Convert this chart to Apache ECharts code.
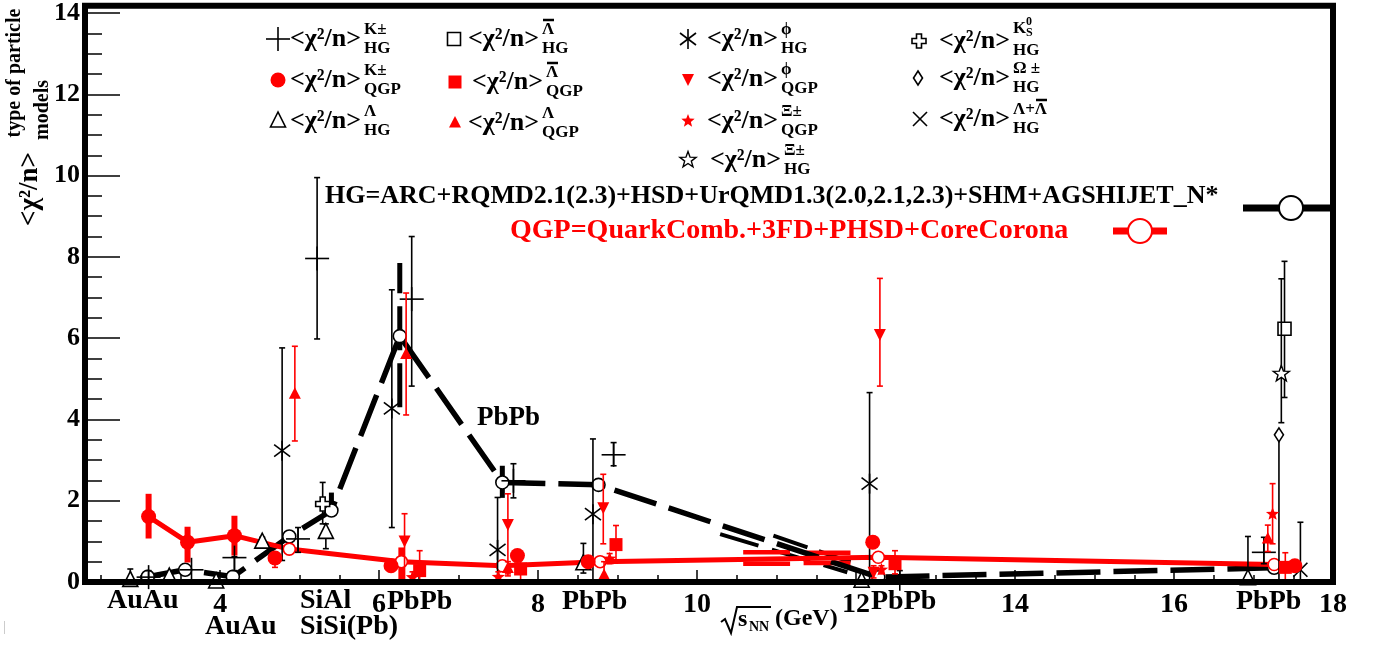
<!DOCTYPE html>
<html><head><meta charset="utf-8">
<script src="https://cdn.jsdelivr.net/npm/echarts@6/dist/echarts.min.js"></script>
<style>html,body{margin:0;padding:0;background:#fff}#c{width:1375px;height:645px}</style>
</head><body><div id="c"></div>
<script>
// ---------------- data ----------------
const xMajorTicks = [4, 6, 8, 10, 12, 14, 16, 18];
const xMinorTicks = [2.5, 3, 3.5, 4.5, 5, 5.5, 6.5, 7, 7.5, 8.5, 9, 9.5, 10.5, 11, 11.5, 12.5, 13, 13.5, 14.5, 15, 15.5, 16.5, 17, 17.5];
const yMajorTicks = [0, 2, 4, 6, 8, 10, 12, 14];
const yMinorTicks = [0.5, 1, 1.5, 2.5, 3, 3.5, 4.5, 5, 5.5, 6.5, 7, 7.5, 8.5, 9, 9.5, 10.5, 11, 11.5, 12.5, 13, 13.5];

// averaged models (lines)
const hgAvgLine = [[3.09,0.13],[3.56,0.30],[4.16,0.13],[4.87,1.12],[5.40,1.76],[6.26,6.05],[7.55,2.45],[8.76,2.39],[12.28,0.12],[17.26,0.35]];
const hgAvgErrs = [[5.40,1.60,2.20],[6.26,4.30,7.85],[7.55,2.07,2.86]];
const hgGhostA = [[10.29,1.18],[11.89,0.24]];
const hgGhostB = [[10.96,1.14],[11.93,0.49]];
const qgpAvgLine = [[3.10,1.61],[3.59,0.98],[4.18,1.14],[4.87,0.81],[6.28,0.50],[7.55,0.40],[8.78,0.50],[12.28,0.61],[17.26,0.43]];
const qgpAvgErrs = [[3.10,1.07,2.17],[3.59,0.48,1.36],[4.18,0.65,1.63],[6.28,0.00,0.85]];
const qgpGhostBars = [[10.58,11.17,0.73],[10.58,11.17,0.45],[11.34,11.93,0.72],[11.34,11.93,0.47]];

// individual particles: [x, y, errLow, errHigh]
const kHG = [[3.10,0.12,0.00,0.28],[3.64,0.30,0.30,0.30],[4.18,0.60,0.28,0.62],[4.98,1.06,0.73,1.34],[5.22,7.96,5.98,9.95],[6.41,6.96,4.82,8.50],[7.69,2.49,2.07,2.91],[8.95,3.13,2.86,3.43],[12.55,0.08,0.00,0.28],[17.13,0.73,0.45,1.10]];
const kQGP = [[3.10,1.61,1.61,1.61],[3.59,0.98,0.98,0.98],[4.18,1.14,1.14,1.14],[4.69,0.59,0.36,0.62],[6.15,0.40,0.30,0.50],[7.74,0.65,0.55,0.78],[8.63,0.50,0.45,0.55],[12.21,0.98,0.85,1.12],[17.52,0.40,0.40,0.40]];
const lamHG = [[2.87,0.04,0.00,0.32],[3.36,0.12,0.12,0.12],[3.95,0.00,0.00,0.00],[4.53,0.98,0.98,1.10],[5.33,1.22,0.82,1.43],[8.57,0.45,0.22,0.95],[12.07,0.02,0.02,0.02],[16.93,0.08,0.00,1.12]];
const lamBarHG = [[17.39,6.23,4.54,7.89]];
const lamBarQGP = [[6.51,0.28,0.00,0.77],[7.78,0.32,0.00,0.60],[8.98,0.92,0.53,1.39],[12.49,0.45,0.20,0.77],[17.40,0.36,0.00,0.72]];
const lamQGP = [[4.94,4.62,3.47,5.80],[6.34,5.60,4.11,7.11],[7.62,0.33,0.15,0.50],[8.83,0.16,0.00,0.50],[17.18,1.06,0.75,1.40]];
const phiHG = [[4.78,3.23,0.53,5.76],[6.16,4.27,1.34,7.19],[7.49,0.79,0.00,2.08],[8.69,1.67,0.00,3.52],[12.17,2.42,0.00,4.66]];
const phiQGP = [[6.32,1.02,0.00,1.68],[7.62,1.43,0.20,2.17],[8.82,1.84,0.94,2.65],[12.30,6.10,4.82,7.47],[12.22,0.25,0.10,0.40]];
const xiQGP = [[6.42,0.11,0.00,0.25],[7.50,0.12,0.00,0.25],[8.90,0.57,0.45,0.70],[12.32,0.30,0.20,0.40],[17.24,1.67,0.94,2.42]];
const xiHG = [[17.35,5.12,3.92,7.46]];
const k0sHG = [[5.29,1.92,1.43,2.45]];
const omegaHG = [[17.32,3.62,0.00,3.62]];
const lamLamBarHG = [[17.59,0.30,0.00,1.47]];

// ---------------- helpers ----------------
const RED = '#ff0000', BLK = '#000000';
const FF = '"Liberation Serif","Times New Roman",serif';
function L(x1,y1,x2,y2,c,w,dash){return {type:'line',shape:{x1,y1,x2,y2},style:{stroke:c,lineWidth:w,lineDash:dash||null}};}
function P(points,fill,stroke,w){return {type:'polygon',shape:{points},style:{fill:fill,stroke:stroke||null,lineWidth:w||0}};}
function starPts(cx,cy,ro,ri){const p=[];for(let i=0;i<10;i++){const r=i%2?ri:ro;const a=-Math.PI/2+i*Math.PI/5;p.push([cx+r*Math.cos(a),cy+r*Math.sin(a)]);}return p;}
function marker(kind,cx,cy){
  const W=1.6;
  switch(kind){
    case 'plus': return [L(cx-12,cy,cx+12,cy,BLK,W),L(cx,cy-12,cx,cy+12,BLK,W)];
    case 'circleRed': return [{type:'circle',shape:{cx,cy,r:7.5},style:{fill:RED}}];
    case 'triOpen': return [P([[cx,cy-9],[cx-7.5,cy+6],[cx+7.5,cy+6]],'#fff',BLK,W)];
    case 'sqOpen': return [{type:'rect',shape:{x:cx-6.5,y:cy-6.5,width:13,height:13},style:{fill:'#fff',stroke:BLK,lineWidth:W}}];
    case 'sqRed': return [{type:'rect',shape:{x:cx-6.5,y:cy-6.5,width:13,height:13},style:{fill:RED}}];
    case 'triRed': return [P([[cx,cy-7],[cx-6,cy+4.5],[cx+6,cy+4.5]],RED)];
    case 'triDownRed': return [P([[cx-6,cy-5],[cx+6,cy-5],[cx,cy+7]],RED)];
    case 'starRed': return [P(starPts(cx,cy,7,3),RED)];
    case 'starOpen': return [P(starPts(cx,cy,8.5,3.5),'#fff',BLK,1.4)];
    case 'asterisk': return [L(cx,cy-10,cx,cy+10,BLK,W),L(cx-8,cy-6,cx+8,cy+6,BLK,W),L(cx-8,cy+6,cx+8,cy-6,BLK,W)];
    case 'crossOpen': {const a=7,b=2.5; return [P([[cx-b,cy-a],[cx+b,cy-a],[cx+b,cy-b],[cx+a,cy-b],[cx+a,cy+b],[cx+b,cy+b],[cx+b,cy+a],[cx-b,cy+a],[cx-b,cy+b],[cx-a,cy+b],[cx-a,cy-b],[cx-b,cy-b]],'#fff',BLK,W)];}
    case 'diamondOpen': return [P([[cx,cy-7],[cx+4.5,cy],[cx,cy+7],[cx-4.5,cy]],'#fff',BLK,W)];
    case 'xMark': return [L(cx-7,cy-7,cx+7,cy+7,BLK,W),L(cx-7,cy+7,cx+7,cy-7,BLK,W)];
  }
  return [];
}
function particleSeries(name,data,kind,color){
  return {type:'custom',name,data,z:6,silent:true,clip:false,encode:{x:0,y:1},
    renderItem(params,api){
      const x=api.value(0),y=api.value(1),lo=api.value(2),hi=api.value(3);
      const p=api.coord([x,y]),pl=api.coord([x,lo]),ph=api.coord([x,hi]);
      const ch=[];
      if(Math.abs(pl[1]-ph[1])>1){
        ch.push(L(p[0],pl[1],p[0],ph[1],color,1.6));
        if(lo<y) ch.push(L(p[0]-3,pl[1],p[0]+3,pl[1],color,1.6));
        if(hi>y) ch.push(L(p[0]-3,ph[1],p[0]+3,ph[1],color,1.6));
      }
      return {type:'group',children:ch.concat(marker(kind,p[0],p[1]))};
    }};
}
function thickErrSeries(name,data,color,width,dash,z){
  return {type:'custom',name,data,z:z,silent:true,clip:false,encode:{x:0,y:[1,2]},
    renderItem(params,api){
      const a=api.coord([api.value(0),api.value(1)]),b=api.coord([api.value(0),api.value(2)]);
      return L(a[0],a[1],b[0],b[1],color,width,dash);
    }};
}
function barSeries(name,data,color,width,z){
  return {type:'custom',name,data,z:z,silent:true,encode:{x:[0,1],y:2},
    renderItem(params,api){
      const a=api.coord([api.value(0),api.value(2)]),b=api.coord([api.value(1),api.value(2)]);
      return L(a[0],a[1],b[0],b[1],color,width);
    }};
}

// ---------------- graphics (texts, legend) ----------------
const G = [];
function T(text,x,y,size,color,opts){
  opts=opts||{};
  G.push({type:'text',x:x,y:y,rotation:opts.rot||0,z:20,
    style:{text:text,fill:color||BLK,font:'bold '+size+'px '+FF,align:opts.align||'left',verticalAlign:'middle'}});
}
function GL(x1,y1,x2,y2,c,w){G.push(Object.assign(L(x1,y1,x2,y2,c,w),{z:20}));}

// legend items (layout only)
const legendItems = [
  {kind:'plus',mx:278,tx:290,y:39,sup:'K±',sub:'HG'},
  {kind:'circleRed',mx:278,tx:290,y:80,sup:'K±',sub:'QGP'},
  {kind:'triOpen',mx:278,tx:290,y:121,sup:'Λ',sub:'HG'},
  {kind:'sqOpen',mx:454,tx:468,y:39,sup:'Λ',bar:0,sub:'HG'},
  {kind:'sqRed',mx:455,tx:472,y:82,sup:'Λ',bar:0,sub:'QGP'},
  {kind:'triRed',mx:455,tx:468,y:123,sup:'Λ',sub:'QGP'},
  {kind:'asterisk',mx:688,tx:707,y:39,sup:'ϕ',sub:'HG'},
  {kind:'triDownRed',mx:688,tx:707,y:79,sup:'ϕ',sub:'QGP'},
  {kind:'starRed',mx:688,tx:707,y:121,sup:'Ξ±',sub:'QGP'},
  {kind:'starOpen',mx:688,tx:710,y:160,sup:'Ξ±',sub:'HG'},
  {kind:'crossOpen',mx:919,tx:939,y:41,sup:'K0S',sub:'HG'},
  {kind:'diamondOpen',mx:918,tx:939,y:78,sup:'Ω ±',sub:'HG'},
  {kind:'xMark',mx:920,tx:939,y:119,sup:'Λ+Λ',bar:22,sub:'HG'}
];
legendItems.forEach(it=>{
  marker(it.kind,it.mx,it.y).forEach(e=>{e.z=20;G.push(e);});
  T('<χ²/n>',it.tx,it.y,26,BLK);
  const sx=it.tx+74;
  if(it.sup==='K0S'){
    T('K',sx,it.y-12,17,BLK); T('0',sx+13,it.y-19,12,BLK); T('S',sx+13,it.y-8,12,BLK);
  } else {
    T(it.sup,sx,it.y-9,17,BLK);
  }
  if(it.bar!==undefined) GL(sx+it.bar+1,it.y-19,sx+it.bar+12,it.y-19,BLK,2.5);
  T(it.sub,sx,it.y+10,17,BLK);
});

// model description texts with legend lines
T('HG=ARC+RQMD2.1(2.3)+HSD+UrQMD1.3(2.0,2.1,2.3)+SHM+AGSHIJET_N*',325,196,26,BLK);
T('QGP=QuarkComb.+3FD+PHSD+CoreCorona',510,231,28,RED);
GL(1243,208,1330,208,BLK,7);
G.push({type:'circle',z:21,shape:{cx:1291,cy:208,r:12},style:{fill:'#fff',stroke:BLK,lineWidth:2}});
GL(1113,231,1167,231,RED,7);
G.push({type:'circle',z:21,shape:{cx:1140,cy:231,r:12},style:{fill:'#fff',stroke:RED,lineWidth:2}});

// in-plot annotation
T('PbPb',477,418,27,BLK);

// x-axis collision system labels
T('AuAu',107,601,28,BLK);
T('AuAu',205,627,28,BLK);
T('SiAl',300,601,28,BLK);
T('SiSi(Pb)',300,627,28,BLK);
T('PbPb',387,602,28,BLK);
T('PbPb',562,602,28,BLK);
T('PbPb',871,602,28,BLK);
T('PbPb',1236,602,28,BLK);

// x-axis title: sqrt(s_NN) (GeV)
G.push({type:'polyline',z:20,shape:{points:[[721,622],[725,619],[731,633],[737,607],[771,607]]},style:{stroke:BLK,lineWidth:2,fill:null}});
T('s',738,620,24,BLK);
T('NN',749,627,14,BLK);
T('(GeV)',775,619,24,BLK);

// y-axis title
T('<χ²/n>',30,189,27,BLK,{rot:Math.PI/2,align:'center'});
T('type of particle',15,73,20,BLK,{rot:Math.PI/2,align:'center'});
T('models',43,110,20,BLK,{rot:Math.PI/2,align:'center'});

// stray mark bottom-left
G.push({type:'line',z:1,shape:{x1:4.5,y1:621,x2:4.5,y2:634},style:{stroke:'#cccccc',lineWidth:1}});

// ---------------- chart ----------------
const chart = echarts.init(document.getElementById('c'),null,{renderer:'canvas'});
const axisFont = {fontFamily:FF,fontWeight:'bold',color:BLK};
chart.setOption({
  backgroundColor:'#ffffff',
  animation:false,
  grid:{left:85,right:42,top:4,bottom:63,show:true,borderColor:BLK,borderWidth:6,backgroundColor:'transparent',z:10},
  xAxis:[
    {type:'value',min:2.3,max:18,position:'bottom',axisLine:{show:false},splitLine:{show:false},
     axisTick:{show:true,inside:true,length:12,lineStyle:{color:BLK,width:1.5},customValues:xMajorTicks},
     axisLabel:Object.assign({customValues:xMajorTicks,fontSize:28,margin:9},axisFont)},
    {type:'value',min:2.3,max:18,position:'bottom',axisLine:{show:false},splitLine:{show:false},
     axisTick:{show:true,inside:true,length:7,lineStyle:{color:BLK,width:1.5},customValues:xMinorTicks},
     axisLabel:{show:false}}
  ],
  yAxis:[
    {type:'value',min:0,max:14.18,position:'left',axisLine:{show:false},splitLine:{show:false},
     axisTick:{show:true,inside:true,length:35,lineStyle:{color:BLK,width:1.5},customValues:yMajorTicks},
     axisLabel:Object.assign({customValues:yMajorTicks,fontSize:26,margin:5},axisFont)},
    {type:'value',min:0,max:14.18,position:'left',axisLine:{show:false},splitLine:{show:false},
     axisTick:{show:true,inside:true,length:17,lineStyle:{color:BLK,width:1.5},customValues:yMinorTicks},
     axisLabel:{show:false}}
  ],
  graphic:G,
  series:[
    {type:'line',name:'HG ghost A',data:hgGhostA,symbol:'none',z:2,silent:true,lineStyle:{color:BLK,width:4,type:[40,14]}},
    {type:'line',name:'HG ghost B',data:hgGhostB,symbol:'none',z:2,silent:true,lineStyle:{color:BLK,width:4,type:[36,12]}},
    {type:'line',name:'HG average',data:hgAvgLine,z:3,silent:true,symbol:'circle',symbolSize:13,showAllSymbol:true,
     itemStyle:{color:'#fff',borderColor:BLK,borderWidth:1.6},lineStyle:{color:BLK,width:5.5,type:[44,13]}},
    thickErrSeries('HG average err',hgAvgErrs,BLK,5,[44,13],3),
    barSeries('QGP ghost bars',qgpGhostBars,RED,4.5,3),
    {type:'line',name:'QGP average',data:qgpAvgLine,z:4,silent:true,symbol:'circle',symbolSize:12,showAllSymbol:true,
     itemStyle:{color:'#fff',borderColor:RED,borderWidth:1.6},lineStyle:{color:RED,width:5}},
    thickErrSeries('QGP average err',qgpAvgErrs,RED,6,null,4),
    particleSeries('K HG',kHG,'plus',BLK),
    particleSeries('Lambda HG',lamHG,'triOpen',BLK),
    particleSeries('LambdaBar HG',lamBarHG,'sqOpen',BLK),
    particleSeries('phi HG',phiHG,'asterisk',BLK),
    particleSeries('Xi HG',xiHG,'starOpen',BLK),
    particleSeries('K0S HG',k0sHG,'crossOpen',BLK),
    particleSeries('Omega HG',omegaHG,'diamondOpen',BLK),
    particleSeries('Lambda+LambdaBar HG',lamLamBarHG,'xMark',BLK),
    particleSeries('K QGP',kQGP,'circleRed',RED),
    particleSeries('LambdaBar QGP',lamBarQGP,'sqRed',RED),
    particleSeries('Lambda QGP',lamQGP,'triRed',RED),
    particleSeries('phi QGP',phiQGP,'triDownRed',RED),
    particleSeries('Xi QGP',xiQGP,'starRed',RED)
  ]
});
</script>
</body></html>
